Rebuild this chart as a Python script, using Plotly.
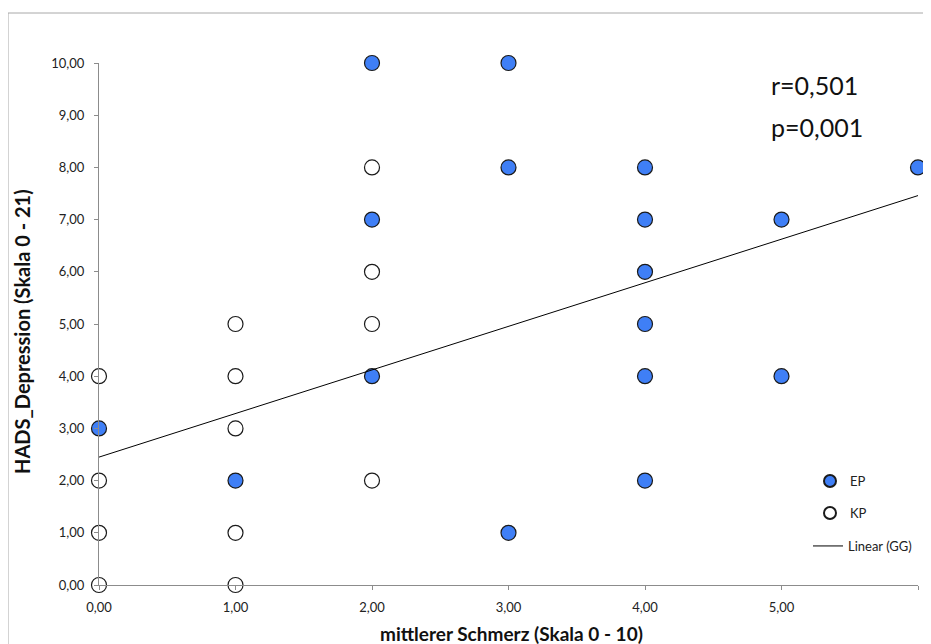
import plotly.graph_objects as go

# EP group (blue)
ep_x = [0, 1, 2, 2, 2, 3, 3, 3, 4, 4, 4, 4, 4, 4, 5, 5, 6]
ep_y = [3, 2, 10, 7, 4, 10, 8, 1, 8, 7, 6, 5, 4, 2, 7, 4, 8]
# KP group (white)
kp_x = [0, 0, 0, 0, 1, 1, 1, 1, 1, 2, 2, 2, 2]
kp_y = [4, 2, 1, 0, 5, 4, 3, 1, 0, 8, 6, 5, 2]
# linear trend (GG)
trend_intercept = 2.45
trend_slope = 0.835
trend_x = [0, 6]
trend_y = [trend_intercept + trend_slope * v for v in trend_x]

x_ticks = [0, 1, 2, 3, 4, 5, 6]
y_ticks = [0, 1, 2, 3, 4, 5, 6, 7, 8, 9, 10]

OFF = 8  # page body margin
W, H = 931 - OFF, 644 - OFF
L, T = 99 - OFF, 63 - OFF
R = W - (918 - OFF)
B = H - (585 - OFF)
pw, ph = W - L - R, H - T - B

def px(xp):
    return (xp - OFF - L) / pw

def py(yp):
    return 1 - (yp - OFF - T) / ph

FONT = "Lato"

fig = go.Figure()
fig.add_trace(go.Scatter(
    x=kp_x, y=kp_y, mode="markers", name="KP", legend="legend2",
    marker=dict(size=15, color="white", line=dict(color="#1a1a1a", width=1.2)),
    cliponaxis=False))
fig.add_trace(go.Scatter(
    x=ep_x, y=ep_y, mode="markers", name="EP", legend="legend",
    marker=dict(size=15, color="#3f7ff6", line=dict(color="#1a1a1a", width=1.2)),
    cliponaxis=False))
fig.add_trace(go.Scatter(
    x=trend_x, y=trend_y, mode="lines", name="Linear (GG)", legend="legend3",
    line=dict(color="black", width=1), cliponaxis=False))

axis_common = dict(showgrid=False, zeroline=False, showline=True, linecolor="#8c8c8c",
                   linewidth=1, ticks="outside", ticklen=4, tickcolor="#8c8c8c",
                   tickformat=".2f", tickfont=dict(family=FONT, size=13, color="#222"))
fig.update_xaxes(range=[0, 6], tickvals=x_ticks, ticklabelstandoff=6, **axis_common)
fig.update_yaxes(range=[0, 10], tickvals=y_ticks, ticklabelstandoff=7, **axis_common)

leg_common = dict(bgcolor="rgba(0,0,0,0)", font=dict(family=FONT, size=13, color="#222"),
                  xanchor="left", yanchor="middle")
fig.update_layout(
    width=W, height=H, separators=",.",
    margin=dict(l=L, r=R, t=T, b=B, autoexpand=False),
    paper_bgcolor="white", plot_bgcolor="white",
    showlegend=True,
    legend=dict(x=px(810), y=py(481), itemsizing="constant", **leg_common),
    legend2=dict(x=px(810), y=py(513), itemsizing="constant", **leg_common),
    legend3=dict(x=px(808), y=py(546), **leg_common),
    shapes=[dict(type="rect", xref="paper", yref="paper",
                 x0=px(8), x1=px(960), y0=py(670), y1=py(13),
                 line=dict(color="#a8a8a8", width=1), layer="below")],
    annotations=[
        dict(text="r=0,501", xref="paper", yref="paper", x=px(769), y=py(85),
             xanchor="left", yanchor="middle", showarrow=False,
             font=dict(family=FONT, size=25, color="#111")),
        dict(text="p=0,001", xref="paper", yref="paper", x=px(769), y=py(127),
             xanchor="left", yanchor="middle", showarrow=False,
             font=dict(family=FONT, size=25, color="#111")),
        dict(text="<b>HADS_Depression (Skala 0 - 21)</b>", xref="paper", yref="paper",
             x=px(22), y=py(332), xanchor="center", yanchor="middle", textangle=-90,
             showarrow=False, font=dict(family=FONT, size=20, color="#111")),
        dict(text="<b>mittlerer Schmerz (Skala 0 - 10)</b>", xref="paper", yref="paper",
             x=px(511), y=py(633), xanchor="center", yanchor="middle",
             showarrow=False, font=dict(family=FONT, size=19, color="#111")),
    ],
)

fig.write_html("out.html")
